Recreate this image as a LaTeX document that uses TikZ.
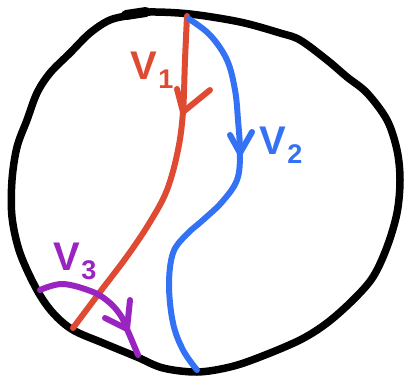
\documentclass[tikz,border=0pt]{standalone}
\usepackage{fontspec}
\setsansfont{Liberation Sans}
\definecolor{vred}{HTML}{DF4A33}
\definecolor{vblue}{HTML}{3372F4}
\definecolor{vpurple}{HTML}{9A24C0}
\newcommand{\vlab}[1]{{\fontsize{40}{40}\selectfont V}\kern1pt\raisebox{-9pt}{\fontsize{27}{27}\selectfont #1}}
\tikzset{
  rim/.style={line width=7.5pt, line cap=round, line join=round, black},
  stroke/.style={line width=6pt, line cap=round, line join=round},
  lbl/.style={font=\sffamily\bfseries, inner sep=0pt}
}
\begin{document}
\begin{tikzpicture}[x=1pt,y=-1pt]
\useasboundingbox (0,0) rectangle (404,377);
% outer circle
\draw[rim] plot[smooth cycle, tension=0.55] coordinates {
 (132,15) (150,12) (190,14) (240,22) (280,33) (300,40) (327,60) (347,77) (367,93)
 (387,120) (397,150) (400,180) (397,213) (387,247) (373,277) (353,300) (327,323)
 (300,340) (260,357) (230,367) (197,372) (163,368) (137,357) (103,343) (73,330)
 (53,313) (37,290) (20,253) (12,217) (12,180) (17,147) (27,120) (37,93) (50,73)
 (70,53) (90,33) (110,20)};
\draw[line width=10pt, line cap=round] (126,15) -- (146,12);
% v1 (red)
\draw[stroke, vred] plot[smooth, tension=0.6] coordinates {
 (187,16) (185,60) (183,112) (178,150) (167,190) (150,222) (128,255) (100,292) (73,328)};
\coordinate (t1) at (183,112);
\coordinate (a1) at (177,89);
\coordinate (b1) at (210,90);
\draw[stroke, vred] (a1) -- (t1) -- (b1);
% v2 (blue)
\draw[stroke, vblue] plot[smooth, tension=0.6] coordinates {
 (189,19) (210,35) (227,60) (235,90) (238,120) (240,153) (237,180) (222,202)
 (203,220) (186,235) (173,253) (169,285) (173,323) (183,350) (197,370)};
\coordinate (t2) at (240,153);
\coordinate (a2) at (230,135);
\coordinate (b2) at (252,132);
\draw[stroke, vblue] (a2) -- (t2) -- (b2);
% v3 (purple)
\draw[stroke, vpurple] plot[smooth, tension=0.6] coordinates {
 (40,290) (63,284) (93,292) (110,303) (121,316) (127,329) (138,355)};
\coordinate (t3) at (127,329);
\coordinate (a3) at (105,318);
\coordinate (b3) at (130,300);
\draw[stroke, vpurple] (a3) -- (t3) -- (b3);
% labels
\node[lbl, text=vred] (l1) at (152,70) {\vlab{1}};
\node[lbl, text=vblue] (l2) at (281,145) {\vlab{2}};
\node[lbl, text=vpurple] (l3) at (75,261) {\vlab{3}};
\end{tikzpicture}
\end{document}
